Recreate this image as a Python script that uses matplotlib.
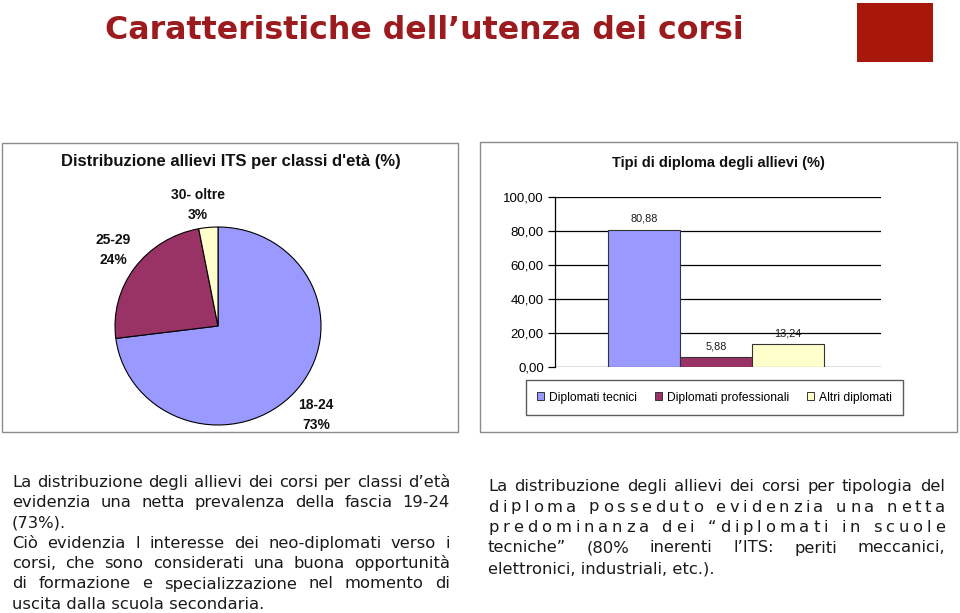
import matplotlib
matplotlib.use('Agg')
import matplotlib.pyplot as plt
import matplotlib.transforms as mtransforms
from matplotlib.patches import Rectangle, Patch
from matplotlib.textpath import TextToPath
from matplotlib.font_manager import FontProperties, findfont, get_font
from matplotlib.ticker import FuncFormatter

# ---------------- data ----------------
slide_title = "Caratteristiche dell\u2019utenza dei corsi"

pie_title = "Distribuzione allievi ITS per classi d'et\u00e0 (%)"
age_classes = ["18-24", "25-29", "30- oltre"]
age_shares = [73, 24, 3]
age_colors = ["#9999FF", "#993366", "#FFFFCC"]

bar_title = "Tipi di diploma degli allievi (%)"
diploma_types = ["Diplomati tecnici", "Diplomati professionali", "Altri diplomati"]
diploma_values = [80.88, 5.88, 13.24]
diploma_colors = ["#9999FF", "#993366", "#FFFFCC"]
y_ticks = [0, 20, 40, 60, 80, 100]

left_lines = [
    ("La distribuzione degli allievi dei corsi per classi d\u2019et\u00e0", "words"),
    ("evidenzia una netta prevalenza della fascia 19-24", "words"),
    ("(73%).", "left"),
    ("Ci\u00f2 evidenzia l interesse dei neo-diplomati verso i", "words"),
    ("corsi, che sono considerati una buona opportunit\u00e0", "words"),
    ("di formazione e specializzazione nel momento di", "words"),
    ("uscita dalla scuola secondaria.", "left"),
]
right_lines = [
    ("La distribuzione degli allievi dei corsi per tipologia del", "words"),
    ("diploma posseduto evidenzia una netta", "chars"),
    ("predominanza dei \u201cdiplomati in scuole", "chars"),
    ("tecniche\u201d (80% inerenti l\u2019ITS: periti meccanici,", "words"),
    ("elettronici, industriali, etc.).", "left"),
]

# ---------------- figure ----------------
W, H = 960, 613
fig = plt.figure(figsize=(W / 100, H / 100), dpi=100)
fig.patch.set_facecolor("white")
P = mtransforms.Affine2D().scale(1, -1).translate(0, H)  # top-left pixel coords


def ax_px(x0, y0, x1, y1):
    return fig.add_axes([x0 / W, 1 - y1 / H, (x1 - x0) / W, (y1 - y0) / H])


ttp = TextToPath()


def tw(s, prop):
    w, h, d = ttp.get_text_width_height_descent(s, prop, ismath=False)
    return w * 100 / 72


def advances(s, prop):
    font = get_font(findfont(prop))
    font.set_size(prop.get_size_in_points(), 100)
    out = []
    for ch in s:
        g = font.load_char(ord(ch))
        out.append(g.linearHoriAdvance / 65536.0)
    return out


# slide title
tprop = FontProperties(family="DejaVu Sans", weight="bold", size=10)
tsize = 10 * 640 / tw(slide_title, tprop)
fig.text(105, 39, slide_title, transform=P, fontsize=tsize, fontweight="bold",
         family="DejaVu Sans", color="#9B1B1E", ha="left", va="baseline")
fig.add_artist(Rectangle((857, 3), 76, 59, transform=P, facecolor="#A8180A",
                         edgecolor="none"))

# panel frames
for (x0, y0, x1, y1) in [(2, 143, 458, 432), (480, 142, 957, 432)]:
    fig.add_artist(Rectangle((x0, y0), x1 - x0, y1 - y0, transform=P,
                             facecolor="none", edgecolor="#8c8c8c", linewidth=1.0))

# ---------------- pie ----------------
fig.text(231, 166, pie_title, transform=P, fontsize=12, fontweight="bold",
         family="Liberation Sans", ha="center", va="baseline", color="#111111")
cx, cy, rx, ry = 218, 326, 103, 99
axp = ax_px(cx - rx, cy - ry, cx + rx, cy + ry)
axp.pie(age_shares, colors=age_colors, startangle=90, counterclock=False,
        wedgeprops=dict(edgecolor="black", linewidth=0.8))
axp.set_aspect("auto")
axp.set_xlim(-1, 1)
axp.set_ylim(-1, 1)
axp.axis("off")

pie_label_pos = {"30- oltre": (198, 205), "25-29": (113, 250), "18-24": (316, 415)}
for lab, val in zip(age_classes, age_shares):
    x, y = pie_label_pos[lab]
    fig.text(x, y, f"{lab}\n{val}%", transform=P, fontsize=10, fontweight="bold",
             family="Liberation Sans", ha="center", va="center", linespacing=1.6,
             color="#111111")

# ---------------- bars ----------------
fig.text(718, 167, bar_title, transform=P, fontsize=10.5, fontweight="bold",
         family="Liberation Sans", ha="center", va="baseline", color="#111111")
axb = ax_px(555, 197, 881, 367)
half = (881 - 555) / 72 / 2
xs = [-1, 0, 1]
bars = axb.bar(xs, diploma_values, width=1.0, color=diploma_colors,
               edgecolor="#333333", linewidth=0.8, zorder=3)
axb.set_xlim(-half + 0.03, half + 0.03)
axb.set_ylim(0, 100)
axb.set_yticks(y_ticks)
axb.yaxis.set_major_formatter(FuncFormatter(lambda v, p: f"{v:.2f}".replace(".", ",")))
axb.set_xticks([])
axb.patch.set_alpha(0)
for yv in y_ticks:
    axb.axhline(yv, color="black", linewidth=0.9, zorder=1)
for s in ["top", "right", "bottom"]:
    axb.spines[s].set_visible(False)
axb.spines["left"].set_color("black")
axb.spines["left"].set_linewidth(0.9)
axb.tick_params(axis="y", length=5, width=0.9, labelsize=9.5, pad=3)
for lbl in axb.get_yticklabels():
    lbl.set_family("Liberation Sans")
for x, v in zip(xs, diploma_values):
    axb.annotate(f"{v:.2f}".replace(".", ","), (x, v), xytext=(0, 4),
                 textcoords="offset points", ha="center", va="bottom",
                 fontsize=7.8, family="Liberation Sans", color="#1a1a1a")

handles = [Patch(facecolor=c, edgecolor="#333333", linewidth=0.7) for c in diploma_colors]
leg = fig.legend(handles, diploma_types, loc="center", ncol=3,
                 bbox_to_anchor=(714.5, 397.5), bbox_transform=P,
                 handlelength=0.6, handleheight=0.6,
                 handletextpad=0.38, columnspacing=1.5, borderpad=0.95,
                 frameon=True, fancybox=False, edgecolor="#333333",
                 prop=FontProperties(family="Liberation Sans", size=8.7))
leg.get_frame().set_linewidth(1.0)

# ---------------- body text ----------------
bprop = FontProperties(family="DejaVu Sans", size=11.8)


def draw_par(lines, x0, x1, y0, dy):
    for i, (line, mode) in enumerate(lines):
        y = y0 + i * dy
        kw = dict(transform=P, fontproperties=bprop, color="#1a1a1a",
                  ha="left", va="baseline")
        if mode == "left":
            fig.text(x0, y, line, **kw)
        elif mode == "words":
            words = line.split(" ")
            widths = [sum(advances(w_, bprop)) for w_ in words]
            gap = (x1 - x0 - sum(widths)) / (len(words) - 1)
            x = x0
            for w_, wd in zip(words, widths):
                fig.text(x, y, w_, **kw)
                x += wd + gap
        else:
            adv = advances(line, bprop)
            n = len(line)
            extra = (x1 - x0 - sum(adv)) / (n - 1)
            x = x0
            for ch, a in zip(line, adv):
                if ch != " ":
                    fig.text(x, y, ch, **kw)
                x += a + extra


draw_par(left_lines, 12, 450, 487, 20.3)
draw_par(right_lines, 488, 945, 491, 20.5)

fig.savefig("out.png", dpi=100, facecolor="white")
